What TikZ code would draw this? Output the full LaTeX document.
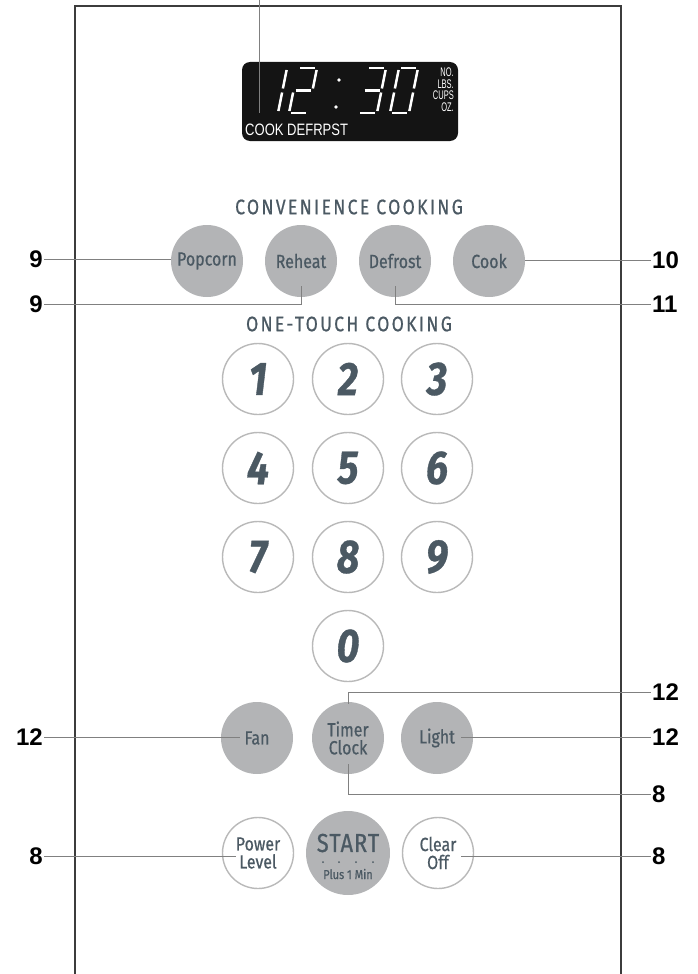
\documentclass[tikz,border=0pt]{standalone}
\usepackage{fontspec}
\setmainfont{Liberation Sans}
\newfontfamily\panelfont[FakeStretch=0.84, FakeBold=0.7]{Fira Sans}
\newfontfamily\lcdfont[FakeStretch=0.79]{Liberation Sans}
\newfontfamily\lcdunitfont[FakeStretch=0.6]{Liberation Sans}
\usetikzlibrary{positioning,calc}
\definecolor{keygray}{HTML}{B3B4B6}
\definecolor{ringgray}{HTML}{B9B9B9}
\definecolor{keytext}{HTML}{4B5963}
\definecolor{leadgray}{HTML}{808080}
\definecolor{framegray}{HTML}{3C3C3C}
\definecolor{lcdblack}{HTML}{141414}

\tikzset{
  softkey/.style={circle, fill=keygray, minimum size=72pt, inner sep=0pt, text=keytext,
    align=center, font=\panelfont\fontsize{19pt}{18pt}\selectfont},
  ringkey/.style={circle, draw=ringgray, line width=1.4pt, fill=white, minimum size=71pt,
    inner sep=0pt, text=keytext, align=center, font=\panelfont\fontsize{19pt}{18pt}\selectfont},
  numkey/.style={ringkey, font=\panelfont\bfseries\itshape\fontsize{47pt}{47pt}\selectfont},
  heading/.style={text=keytext, inner sep=0pt,
    font=\panelfont\addfontfeature{LetterSpace=11}\fontsize{21pt}{21pt}\selectfont},
  callout/.style={inner sep=1pt, font=\bfseries\fontsize{24pt}{24pt}\selectfont},
  leader/.style={draw=leadgray, line width=1pt},
  lcdseg/.style={draw=white, line width=2.5pt},
  lcdunit/.style={anchor=east, inner sep=0pt, text=white, font=\lcdunitfont\fontsize{12.5pt}{12.5pt}\selectfont},
}

\newcommand{\segA}{(2pt,45pt)--(17pt,45pt)}
\newcommand{\segB}{(19pt,43pt)--(19pt,24.5pt)}
\newcommand{\segC}{(19pt,20.5pt)--(19pt,2pt)}
\newcommand{\segD}{(2pt,0pt)--(17pt,0pt)}
\newcommand{\segE}{(0pt,2pt)--(0pt,20.5pt)}
\newcommand{\segF}{(0pt,24.5pt)--(0pt,43pt)}
\newcommand{\segG}{(2pt,22.5pt)--(17pt,22.5pt)}
\newcommand{\lcddigit}[2]{%
  \begin{scope}[shift={(#1,113)}, xslant=0.2]
    \foreach \s in {#2} {\draw[lcdseg] \csname seg\s\endcsname;}
  \end{scope}}

\begin{document}
\begin{tikzpicture}[x=1pt, y=-1pt]
    \useasboundingbox (0,0) rectangle (698,974);

    \draw[framegray, line width=1.5pt] (75,974) -- (75,6) -- (621,6) -- (621,974);

    % display
    \draw[fill=lcdblack, draw=none, rounded corners=8pt] (242,62) rectangle (458,141);
    \lcddigit{259}{B,C}
    \lcddigit{289}{A,B,G,E,D}
    \lcddigit{358}{A,B,G,C,D}
    \lcddigit{390}{A,B,C,D,E,F}
    \fill[white] (339,80) circle (1.8pt) (336,107) circle (1.8pt);
    \node[anchor=base west, inner sep=0pt, text=white, font=\lcdfont\fontsize{16.5pt}{16.5pt}\selectfont]
        (lcdmode) at (245,135) {COOK DEFRPST};
    \node[lcdunit] (unitno) at (454,72.5) {NO.};
    \node[lcdunit] (unitlbs) at (454,84) {LBS.};
    \node[lcdunit] (unitcups) at (454,95.5) {CUPS};
    \node[lcdunit] (unitoz) at (454,107) {OZ.};
    \coordinate (lcdtop) at (259,0);
    \coordinate (lcdmark) at (259,113);
    \draw[leader] (lcdtop) -- (lcdmark);

    % convenience cooking
    \node[heading] (convtitle) at (349,207) {CONVENIENCE COOKING};
    \node[softkey] (popcorn) at (207,261) {Popcorn};
    \node[softkey] (reheat) at (301,261) {Reheat};
    \node[softkey] (defrost) at (395,261) {Defrost};
    \node[softkey] (cook) at (489,261) {Cook};

    % one-touch cooking
    \node[heading] (onetitle) at (349,324) {ONE-TOUCH COOKING};
    \node[numkey] (n1) at (258,379) {1};
    \node[numkey] (n2) at (348,379) {2};
    \node[numkey] (n3) at (437,379) {3};
    \node[numkey] (n4) at (258,468) {4};
    \node[numkey] (n5) at (348,468) {5};
    \node[numkey] (n6) at (437,468) {6};
    \node[numkey] (n7) at (258,557) {7};
    \node[numkey] (n8) at (348,557) {8};
    \node[numkey] (n9) at (437,557) {9};
    \node[numkey] (n0) at (348,646) {0};

    \node[softkey] (fan) at (257,738) {Fan};
    \node[softkey] (timer) at (348,738) {Timer\\Clock};
    \node[softkey] (light) at (437,738) {Light};

    \node[ringkey] (power) at (258,853) {Power\\Level};
    \node[softkey, minimum size=84pt] (start) at (348,853) {};
    \node[text=keytext, inner sep=0pt, font=\panelfont\addfontfeature{LetterSpace=4}\fontsize{26pt}{26pt}\selectfont]
        (startword) at (348,843) {START};
    \foreach \dx in {-25,-9,8,25} \fill[keytext] (348+\dx,862) circle (1pt);
    \node[text=keytext, inner sep=0pt, font=\panelfont\fontsize{13pt}{13pt}\selectfont]
        (startplus) at (348,874) {Plus 1 Min};
    \node[ringkey] (clear) at (438,853) {Clear\\Off};

    % callouts
    \node[callout, anchor=east] (c9a) at (44,259) {9};
    \node[callout, anchor=east] (c9b) at (44,304) {9};
    \node[callout, anchor=west] (c10) at (651,260) {10};
    \node[callout, anchor=west] (c11) at (651,304) {11};
    \node[callout, anchor=west] (c12a) at (651,692) {12};
    \node[callout, anchor=east] (c12b) at (44,737) {12};
    \node[callout, anchor=west] (c12c) at (651,737) {12};
    \node[callout, anchor=west] (c8a) at (651,794) {8};
    \node[callout, anchor=east] (c8b) at (44,856) {8};
    \node[callout, anchor=west] (c8c) at (651,856) {8};

    \draw[leader] (c9a.east) -- (popcorn.west |- c9a.east);
    \draw[leader] (c9b.east) -| ([yshift=-25pt]reheat.center);
    \draw[leader] (cook.east |- c10.west) -- (c10.west);
    \draw[leader] ([yshift=-25pt]defrost.center) |- (c11.west);
    \draw[leader] ([yshift=-2pt]timer.north) |- (c12a.west);
    \draw[leader] (c12b.east) -- ([xshift=-17pt]fan.center |- c12b.east);
    \draw[leader] ([xshift=24pt]light.center |- c12c.west) -- (c12c.west);
    \draw[leader] ([yshift=-26pt]timer.center) |- (c8a.west);
    \draw[leader] (c8b.east) -- ([xshift=-22pt]power.center |- c8b.east);
    \draw[leader] ([xshift=23pt]clear.center |- c8c.west) -- (c8c.west);
\end{tikzpicture}
\end{document}
